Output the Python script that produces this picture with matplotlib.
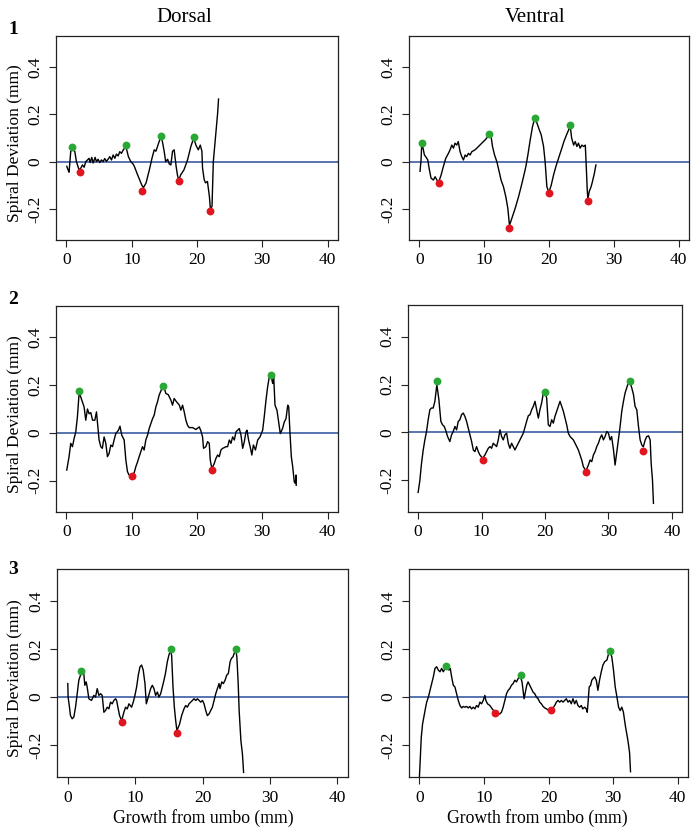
import matplotlib
matplotlib.use('Agg')
import matplotlib.pyplot as plt

plt.rcParams['font.family'] = ['Liberation Serif', 'DejaVu Serif']

W, H = 700, 836

# ----- panel 1, dorsal -----
x_d1 = [0.05, 0.25, 0.4, 0.66, 0.92, 1.27, 1.53, 1.93, 2.19, 2.45, 2.71, 2.96, 3.22, 3.47, 3.63,
        3.88, 4.09, 4.39, 4.6, 4.85, 5.11, 5.36, 5.62, 5.87, 6.13, 6.38, 6.64, 6.9, 7.15, 7.41,
        7.66, 7.92, 8.17, 8.43, 8.69, 8.89, 9.1, 9.5, 9.86, 10.2, 10.4, 10.9, 11.2, 11.55, 11.8,
        12.2, 12.7, 13.1, 13.45, 13.7, 13.95, 14.2, 14.46, 14.7, 14.97, 15.2, 15.5, 15.75, 16.0,
        16.25, 16.5, 16.8, 17.0, 17.2, 17.5, 18.0, 18.55, 19.06, 19.5, 19.83, 20.2, 20.5, 20.75,
        20.85, 21.1, 21.3, 21.6, 21.9, 22.05, 22.3, 22.5, 22.8, 23.16, 23.3]
y_d1 = [-0.02, -0.035, -0.045, 0.044, 0.05, 0.044, 0.0, -0.035, -0.028, -0.014, -0.024, 0.0,
        0.007, 0.014, -0.004, 0.018, -0.006, 0.018, 0.0, 0.01, -0.004, 0.007, 0.0, 0.013, 0.001,
        0.01, 0.021, 0.007, 0.028, 0.014, 0.032, 0.024, 0.042, 0.035, 0.049, 0.056, 0.065, 0.02,
        0.0, -0.01, -0.02, -0.056, -0.076, -0.1, -0.11, -0.09, -0.035, 0.014, 0.05, 0.044, 0.064,
        0.085, 0.105, 0.085, 0.044, 0.0, 0.01, -0.01, -0.014, 0.044, 0.05, -0.02, -0.056, -0.08,
        -0.056, -0.035, 0.007, 0.064, 0.1, 0.07, 0.05, 0.07, 0.044, -0.028, -0.076, -0.09, -0.084,
        -0.148, -0.2, -0.19, 0.0, 0.093, 0.205, 0.265]
peak_x_d1 = [0.92, 9.1, 14.5, 19.5]
peak_y_d1 = [0.061, 0.069, 0.11, 0.105]
trough_x_d1 = [2.04, 11.6, 17.2, 22.0]
trough_y_d1 = [-0.044, -0.123, -0.082, -0.208]

# ----- panel 1, ventral -----
x_v1 = [0.1, 0.26, 0.37, 0.47, 0.78, 0.98, 1.3, 1.5, 1.8, 2.17, 2.43, 2.7, 3.0, 3.35, 3.7, 4.07,
        4.48, 4.74, 5.0, 5.26, 5.5, 5.77, 6.0, 6.28, 6.54, 6.8, 7.06, 7.3, 7.57, 7.83, 8.09, 8.6,
        9.12, 9.63, 10.15, 10.4, 10.7, 11.07, 11.28, 11.6, 11.95, 12.3, 12.6, 12.97, 13.34, 13.65,
        13.9, 14.27, 14.78, 15.3, 15.7, 16.07, 16.43, 16.74, 17.1, 17.46, 17.82, 18.13, 18.5, 18.8,
        19.16, 19.4, 19.67, 19.98, 20.34, 20.7, 21.06, 21.47, 21.9, 22.3, 22.7, 23.27, 23.5, 23.8,
        24.05, 24.3, 24.55, 24.8, 25.07, 25.34, 25.6, 25.75, 25.9, 26.0, 26.2, 26.5, 26.7, 27.0,
        27.24]
y_v1 = [-0.041, 0.007, 0.079, 0.07, 0.028, 0.021, 0.007, -0.028, -0.07, -0.078, -0.064, -0.078,
        -0.085, -0.057, -0.021, 0.014, 0.035, 0.05, 0.07, 0.057, 0.078, 0.07, 0.085, 0.042, 0.021,
        0.007, 0.028, 0.021, 0.035, 0.028, 0.042, 0.05, 0.064, 0.078, 0.092, 0.1, 0.115, 0.106,
        0.064, 0.028, 0.0, -0.041, -0.078, -0.106, -0.149, -0.198, -0.27, -0.24, -0.198, -0.149,
        -0.106, -0.064, -0.021, 0.028, 0.092, 0.149, 0.185, 0.164, 0.135, 0.113, 0.064, 0.0,
        -0.106, -0.13, -0.1, -0.057, -0.021, 0.014, 0.05, 0.085, 0.113, 0.15, 0.099, 0.07, 0.085,
        0.064, 0.078, 0.057, 0.07, 0.064, 0.07, -0.021, -0.12, -0.16, -0.127, -0.106, -0.085,
        -0.05, -0.014]
peak_x_v1 = [0.42, 10.7, 17.87, 23.27]
peak_y_v1 = [0.079, 0.116, 0.184, 0.153]
trough_x_v1 = [3.04, 13.9, 20.03, 26.0]
trough_y_v1 = [-0.089, -0.28, -0.133, -0.168]

# ----- panel 2, dorsal -----
x_d2 = [0.05, 0.4, 0.66, 0.92, 1.17, 1.43, 1.68, 1.95, 2.35, 2.7, 2.96, 3.22, 3.47, 3.73, 4.0,
        4.35, 4.6, 4.85, 5.0, 5.26, 5.5, 5.77, 6.03, 6.28, 6.54, 6.8, 7.06, 7.3, 7.56, 7.97, 8.2,
        8.48, 8.84, 9.1, 9.35, 9.6, 10.0, 10.38, 10.63, 10.9, 11.14, 11.4, 11.65, 11.9, 12.16,
        12.42, 12.67, 12.93, 13.2, 13.44, 13.7, 13.95, 14.2, 14.62, 14.9, 15.23, 15.6, 16.0,
        16.25, 16.5, 16.87, 17.3, 17.53, 17.79, 18.04, 18.3, 18.55, 18.8, 19.32, 19.83, 20.35,
        20.6, 20.85, 21.0, 21.36, 21.62, 21.88, 22.03, 22.28, 22.65, 22.9, 23.16, 23.41, 23.67,
        23.92, 24.18, 24.43, 24.69, 24.95, 25.2, 25.46, 25.72, 25.97, 26.23, 26.48, 26.74, 27.0,
        27.25, 27.5, 27.66, 27.9, 28.2, 28.4, 28.64, 28.95, 29.3, 29.65, 30.06, 30.3, 30.57,
        30.82, 31.08, 31.33, 31.6, 31.75, 31.95, 32.25, 32.5, 32.76, 33.1, 33.38, 33.64, 33.9,
        34.05, 34.25, 34.45, 34.66, 34.9, 35.07, 35.17, 35.2]
y_d2 = [-0.156, -0.1, -0.044, -0.058, -0.024, 0.004, 0.067, 0.17, 0.137, 0.109, 0.053, 0.1, 0.08,
        0.085, 0.053, 0.053, 0.088, 0.011, -0.03, -0.058, -0.065, -0.017, -0.044, -0.1, -0.086,
        -0.051, -0.058, -0.03, -0.003, 0.011, 0.028, -0.01, -0.03, -0.114, -0.163, -0.177, -0.178,
        -0.167, -0.142, -0.121, -0.1, -0.079, -0.058, -0.072, -0.03, -0.01, 0.018, 0.039, 0.06,
        0.074, 0.109, 0.13, 0.158, 0.186, 0.195, 0.165, 0.16, 0.137, 0.116, 0.144, 0.13, 0.116,
        0.095, 0.116, 0.088, 0.053, 0.032, 0.022, 0.022, 0.014, 0.025, 0.008, -0.017, -0.065,
        -0.058, -0.037, -0.044, -0.114, -0.15, -0.128, -0.107, -0.093, -0.1, -0.072, -0.065,
        -0.062, -0.058, -0.058, -0.03, -0.044, -0.017, -0.03, 0.004, 0.011, 0.018, -0.01, -0.065,
        -0.037, 0.004, 0.011, -0.03, -0.065, -0.093, -0.051, -0.072, -0.03, -0.017, 0.011, 0.067,
        0.137, 0.193, 0.235, 0.24, 0.207, 0.235, 0.116, 0.095, 0.046, -0.003, 0.018, 0.046, 0.06,
        0.116, 0.109, -0.003, -0.1, -0.142, -0.205, -0.212, -0.177, -0.22]
peak_x_d2 = [1.89, 14.77, 31.33]
peak_y_d2 = [0.177, 0.198, 0.244]
trough_x_d2 = [10.0, 22.3]
trough_y_d2 = [-0.18, -0.156]

# ----- panel 2, ventral -----
x_v2 = [0.0, 0.27, 0.53, 0.8, 1.06, 1.32, 1.58, 1.85, 2.1, 2.37, 2.64, 2.95, 3.27, 3.58, 3.85,
        4.11, 4.32, 4.64, 5.0, 5.27, 5.53, 5.8, 6.06, 6.32, 6.58, 6.84, 7.11, 7.37, 7.64, 7.9,
        8.16, 8.43, 8.7, 8.95, 9.21, 9.48, 9.74, 10.16, 10.53, 10.8, 11.06, 11.32, 11.58, 11.84,
        12.1, 12.37, 12.63, 12.9, 13.16, 13.42, 13.68, 13.95, 14.21, 14.47, 14.74, 15.0, 15.26,
        15.53, 15.79, 16.05, 16.32, 16.58, 16.84, 17.1, 17.37, 17.63, 17.9, 18.16, 18.42, 18.68,
        18.95, 19.2, 19.47, 19.74, 20.0, 20.26, 20.52, 20.79, 21.05, 21.31, 21.57, 21.84, 22.1,
        22.37, 22.63, 22.9, 23.16, 23.42, 23.68, 23.95, 24.21, 24.47, 24.74, 25.0, 25.26, 25.53,
        25.79, 26.05, 26.45, 26.84, 27.1, 27.37, 27.63, 27.9, 28.16, 28.42, 28.68, 28.95, 29.2,
        29.47, 29.74, 30.0, 30.26, 30.5, 30.8, 31.05, 31.3, 31.57, 31.84, 32.1, 32.37, 32.63,
        33.05, 33.4, 33.68, 33.95, 34.2, 34.47, 34.74, 35.0, 35.26, 35.5, 35.8, 36.05, 36.32,
        36.58, 36.74, 36.95, 37.1]
y_v2 = [-0.25, -0.2, -0.129, -0.073, -0.031, 0.004, 0.053, 0.095, 0.102, 0.102, 0.13, 0.2, 0.137,
        0.046, 0.032, 0.025, 0.011, -0.017, -0.038, -0.01, 0.004, 0.025, 0.011, 0.046, 0.053,
        0.074, 0.081, 0.067, 0.046, 0.018, -0.01, -0.038, -0.073, -0.08, -0.059, -0.08, -0.094,
        -0.108, -0.094, -0.08, -0.066, -0.059, -0.066, -0.045, -0.052, -0.059, -0.031, 0.011,
        -0.017, -0.031, -0.01, -0.003, -0.045, -0.066, -0.045, -0.059, -0.073, -0.059, -0.045,
        -0.031, -0.017, -0.003, 0.022, 0.046, 0.07, 0.074, 0.095, 0.109, 0.13, 0.095, 0.06, 0.095,
        0.123, 0.165, 0.17, 0.144, 0.032, 0.025, 0.053, 0.039, 0.067, 0.088, 0.109, 0.13, 0.109,
        0.088, 0.06, 0.032, -0.003, -0.017, -0.024, -0.031, -0.045, -0.059, -0.073, -0.094,
        -0.115, -0.143, -0.16, -0.136, -0.115, -0.122, -0.094, -0.08, -0.059, -0.045, -0.024,
        -0.01, -0.031, -0.017, 0.004, -0.003, -0.031, -0.017, -0.073, -0.136, -0.087, -0.031,
        0.025, 0.088, 0.13, 0.165, 0.2, 0.21, 0.186, 0.158, 0.109, 0.095, 0.025, -0.031, -0.052,
        -0.06, -0.031, -0.017, -0.014, -0.031, -0.129, -0.2, -0.296]
peak_x_v2 = [2.9, 20.0, 33.42]
peak_y_v2 = [0.214, 0.168, 0.214]
trough_x_v2 = [10.16, 26.47, 35.5]
trough_y_v2 = [-0.113, -0.165, -0.077]

# ----- panel 3, dorsal -----
x_d3 = [0.0, 0.05, 0.25, 0.4, 0.65, 0.9, 1.15, 1.4, 1.64, 2.0, 2.38, 2.53, 2.73, 2.88, 3.13,
        3.52, 3.87, 4.12, 4.37, 4.62, 4.87, 5.11, 5.36, 5.6, 5.85, 6.1, 6.35, 6.6, 6.84, 7.09,
        7.25, 7.44, 7.69, 8.0, 8.33, 8.58, 8.83, 9.08, 9.47, 9.72, 9.97, 10.22, 10.47, 10.72,
        10.96, 11.2, 11.46, 11.66, 11.95, 12.3, 12.55, 12.8, 13.04, 13.3, 13.54, 13.79, 14.04,
        14.28, 14.5, 14.78, 15.02, 15.27, 15.42, 15.62, 15.82, 16.02, 16.2, 16.6, 16.9, 17.25,
        17.5, 17.75, 18.0, 18.25, 18.5, 18.74, 19.0, 19.24, 19.5, 19.74, 20.0, 20.23, 20.48,
        20.72, 20.97, 21.22, 21.47, 21.72, 21.97, 22.21, 22.46, 22.6, 22.86, 23.1, 23.35, 23.6,
        23.84, 24.1, 24.3, 24.54, 24.7, 24.94, 25.1, 25.3, 25.44, 25.7, 25.93, 26.1]
y_d3 = [0.056, 0.0, -0.042, -0.077, -0.09, -0.083, -0.042, 0.014, 0.07, 0.1, 0.097, 0.049, 0.063,
        0.042, -0.007, -0.014, 0.007, 0.0, 0.035, 0.007, 0.014, 0.007, -0.063, -0.056, -0.042,
        -0.049, -0.021, -0.028, -0.014, -0.007, -0.014, -0.042, -0.077, -0.098, -0.063, -0.042,
        -0.049, -0.028, -0.042, -0.021, 0.007, 0.042, 0.091, 0.126, 0.133, 0.112, 0.056, -0.028,
        0.0, 0.035, 0.049, 0.035, 0.007, 0.021, 0.0, 0.014, 0.042, 0.07, 0.098, 0.147, 0.175,
        0.195, 0.172, 0.042, -0.042, -0.098, -0.14, -0.112, -0.077, -0.049, -0.035, -0.042,
        -0.028, -0.021, -0.014, -0.007, -0.014, -0.007, -0.014, -0.021, -0.014, -0.028, -0.056,
        -0.077, -0.07, -0.056, -0.042, -0.014, 0.014, 0.035, 0.056, 0.035, 0.063, 0.056, 0.07,
        0.091, 0.098, 0.147, 0.161, 0.168, 0.182, 0.195, 0.168, 0.056, -0.056, -0.181, -0.237,
        -0.313]
peak_x_d3 = [1.99, 15.3, 24.94]
peak_y_d3 = [0.107, 0.201, 0.198]
trough_x_d3 = [8.03, 16.2]
trough_y_d3 = [-0.102, -0.148]

# ----- panel 3, ventral -----
x_v3 = [0.0, 0.15, 0.3, 0.5, 0.78, 0.98, 1.14, 1.4, 1.65, 1.91, 2.17, 2.42, 2.68, 2.94, 3.2,
        3.45, 3.71, 3.97, 4.2, 4.38, 4.58, 4.79, 5.0, 5.26, 5.51, 5.77, 6.03, 6.29, 6.55, 6.8,
        7.06, 7.32, 7.57, 7.83, 8.09, 8.35, 8.6, 8.86, 9.12, 9.38, 9.63, 9.89, 10.15, 10.3, 10.56,
        10.92, 11.28, 11.69, 12.1, 12.46, 12.72, 12.98, 13.24, 13.5, 13.75, 14.0, 14.26, 14.52,
        14.78, 15.04, 15.3, 15.6, 15.9, 16.22, 16.42, 16.63, 16.84, 17.1, 17.35, 17.6, 17.87,
        18.13, 18.39, 18.64, 18.9, 19.16, 19.42, 19.67, 19.93, 20.29, 20.7, 20.96, 21.22, 21.47,
        21.73, 21.99, 22.25, 22.5, 22.76, 23.02, 23.28, 23.53, 23.79, 24.05, 24.3, 24.56, 24.82,
        25.08, 25.3, 25.6, 25.85, 26.0, 26.15, 26.3, 26.52, 26.7, 26.93, 27.14, 27.4, 27.65,
        27.9, 28.17, 28.43, 28.7, 29.05, 29.35, 29.5, 29.8, 30.07, 30.33, 30.6, 30.85, 31.1,
        31.35, 31.6, 31.9, 32.3, 32.55, 32.7]
y_v3 = [-0.34, -0.252, -0.167, -0.112, -0.07, -0.042, -0.021, 0.0, 0.028, 0.056, 0.084, 0.119,
        0.126, 0.112, 0.105, 0.119, 0.105, 0.119, 0.126, 0.126, 0.112, 0.119, 0.084, 0.049, 0.042,
        0.014, -0.014, -0.035, -0.045, -0.039, -0.042, -0.039, -0.045, -0.039, -0.049, -0.042,
        -0.049, -0.035, -0.042, -0.021, -0.028, -0.014, 0.007, -0.014, -0.028, -0.035, -0.049,
        -0.062, -0.07, -0.07, -0.063, -0.042, -0.014, 0.014, 0.028, 0.035, 0.049, 0.056, 0.07,
        0.063, 0.077, 0.09, 0.063, -0.007, 0.021, 0.049, 0.063, 0.049, 0.035, 0.021, 0.014, 0.0,
        -0.007, -0.021, -0.028, -0.039, -0.045, -0.049, -0.053, -0.05, -0.045, -0.035, -0.021,
        -0.014, -0.021, -0.014, -0.021, -0.014, -0.007, -0.021, -0.014, -0.028, -0.007, -0.028,
        -0.014, -0.035, -0.042, -0.035, -0.049, -0.042, -0.049, -0.063, -0.014, 0.042, 0.049,
        0.07, 0.077, 0.084, 0.07, 0.028, 0.07, 0.105, 0.133, 0.147, 0.154, 0.185, 0.19, 0.167,
        0.111, 0.042, 0.0, -0.042, -0.056, -0.042, -0.063, -0.119, -0.181, -0.23, -0.31]
peak_x_v3 = [4.12, 15.7, 29.5]
peak_y_v3 = [0.131, 0.091, 0.191]
trough_x_v3 = [11.69, 20.34]
trough_y_v3 = [-0.067, -0.054]

x_ticks = [0, 10, 20, 30, 40]
y_ticks = [-0.2, 0, 0.2, 0.4]
y_tick_labels = ['-0.2', '0', '0.2', '0.4']

# axes boxes in pixels: left, top, right, bottom
panels = [
    (x_d1, y_d1, peak_x_d1, peak_y_d1, trough_x_d1, trough_y_d1, (56, 36, 338, 240)),
    (x_v1, y_v1, peak_x_v1, peak_y_v1, trough_x_v1, trough_y_v1, (409, 36, 689, 240)),
    (x_d2, y_d2, peak_x_d2, peak_y_d2, trough_x_d2, trough_y_d2, (56, 306, 338, 512)),
    (x_v2, y_v2, peak_x_v2, peak_y_v2, trough_x_v2, trough_y_v2, (408, 305, 682, 512)),
    (x_d3, y_d3, peak_x_d3, peak_y_d3, trough_x_d3, trough_y_d3, (57, 569, 348, 777)),
    (x_v3, y_v3, peak_x_v3, peak_y_v3, trough_x_v3, trough_y_v3, (409, 569, 688, 777)),
]

fig = plt.figure(figsize=(W / 100, H / 100), dpi=100)

for i, (xs, ys, px, py, tx, ty, box) in enumerate(panels):
    l, t, r, b = box
    ax = fig.add_axes([l / W, 1 - b / H, (r - l) / W, (b - t) / H])
    ax.axhline(0, color='#4a68a8', lw=1.3, zorder=1)
    ax.plot(xs, ys, color='black', lw=1.0, zorder=2)
    ax.scatter(px, py, s=32, color='#2aa836', zorder=3, linewidths=0)
    ax.scatter(tx, ty, s=32, color='#e0151f', zorder=3, linewidths=0)
    ax.set_xlim(-1.6, 41.6)
    ax.set_ylim(-0.332, 0.532)
    ax.set_xticks(x_ticks)
    ax.set_xticklabels([str(v) for v in x_ticks], fontsize=12.5)
    ax.set_yticks(y_ticks)
    ax.set_yticklabels(y_tick_labels, fontsize=12.5, rotation=90, va='center')
    ax.tick_params(direction='out', length=5, width=0.8, color='#222222', pad=4)
    for sp in ax.spines.values():
        sp.set_color('#222222')
        sp.set_linewidth(0.9)
    if i % 2 == 0:
        fig.text(15 / W, 1 - ((t + b) / 2 + 5) / H, 'Spiral Deviation (mm)',
                 rotation=90, ha='center', va='center', fontsize=12.5)

fig.text(184 / W, 1 - 17 / H, 'Dorsal', ha='center', va='center', fontsize=15)
fig.text(535 / W, 1 - 17 / H, 'Ventral', ha='center', va='center', fontsize=15)
for lab, yy in [('1', 30), ('2', 299), ('3', 570)]:
    fig.text(13 / W, 1 - yy / H, lab, ha='center', va='center', fontsize=14, fontweight='bold')
fig.text(203 / W, 1 - 818 / H, 'Growth from umbo (mm)', ha='center', va='center', fontsize=12.7)
fig.text(537 / W, 1 - 818 / H, 'Growth from umbo (mm)', ha='center', va='center', fontsize=12.7)

fig.savefig('out.png', dpi=100)
